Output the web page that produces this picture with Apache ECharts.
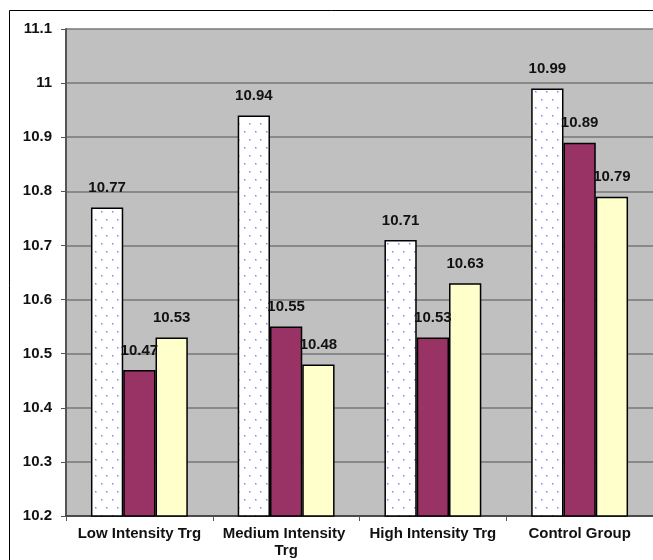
<!DOCTYPE html>
<html>
<head>
<meta charset="utf-8">
<script src="https://cdn.jsdelivr.net/npm/echarts@6/dist/echarts.min.js"></script>
<style>
  html, body { margin: 0; padding: 0; background: #ffffff; }
  #chart { width: 653px; height: 560px; }
</style>
</head>
<body>
<div id="chart"></div>
<script>
// Group names along the category axis
const categories = ['Low Intensity Trg', 'Medium Intensity Trg', 'High Intensity Trg', 'Control Group'];

// Three measurements per group
const seriesA = [10.77, 10.94, 10.71, 10.99]; // dotted white bars
const seriesB = [10.47, 10.55, 10.53, 10.89]; // plum bars
const seriesC = [10.53, 10.48, 10.63, 10.79]; // pale yellow bars

// Value axis range and step
const yMin = 10.2;
const yMax = 11.1;
const yStep = 0.1;

// White tile sprinkled with small blue dots, used as a fill pattern
function dotTile() {
  const c = document.createElement('canvas');
  c.width = 11;
  c.height = 16;
  const g = c.getContext('2d');
  g.fillStyle = '#ffffff';
  g.fillRect(0, 0, c.width, c.height);
  g.fillStyle = 'rgba(150,150,255,0.45)';
  g.fillRect(2, 3, 2, 2);
  g.fillRect(7, 11, 2, 2);
  g.fillStyle = 'rgba(100,100,255,0.8)';
  g.fillRect(2, 3, 1, 1);
  g.fillRect(7, 11, 1, 1);
  return c;
}

const labelStyle = {
  show: true,
  position: 'top',
  distance: 12,
  fontFamily: 'Liberation Sans, Arial, sans-serif',
  fontWeight: 'bold',
  fontSize: 15,
  color: '#111'
};

const chart = echarts.init(document.getElementById('chart'), null, { renderer: 'canvas' });

chart.setOption({
  animation: false,
  backgroundColor: '#ffffff',
  graphic: [{
    type: 'rect',
    shape: { x: 9.5, y: 10.5, width: 700, height: 600 },
    style: { fill: 'none', stroke: '#000', lineWidth: 1 },
    z: 100
  }],
  grid: {
    left: 66,
    top: 29,
    width: 592,
    height: 487,
    show: true,
    backgroundColor: '#c0c0c0',
    borderWidth: 0
  },
  xAxis: {
    type: 'category',
    data: categories,
    axisLine: { show: true, lineStyle: { color: '#333', width: 1.5 } },
    axisTick: { show: true, length: 5, inside: false, lineStyle: { color: '#555' } },
    axisLabel: {
      interval: 0,
      margin: 9,
      width: 142,
      overflow: 'break',
      lineHeight: 17,
      fontFamily: 'Liberation Sans, Arial, sans-serif',
      fontWeight: 'bold',
      fontSize: 15,
      color: '#111'
    }
  },
  yAxis: {
    type: 'value',
    min: yMin,
    max: yMax,
    interval: yStep,
    axisLine: { show: true, lineStyle: { color: '#555', width: 2 } },
    axisTick: { show: true, length: 5, lineStyle: { color: '#555' } },
    axisLabel: {
      margin: 14,
      formatter: v => String(Math.round(v * 10) / 10),
      fontFamily: 'Liberation Sans, Arial, sans-serif',
      fontWeight: 'bold',
      fontSize: 15,
      color: '#111'
    },
    splitLine: { show: true, lineStyle: { color: '#777', width: 1.5 } }
  },
  series: [
    {
      type: 'bar',
      data: seriesA,
      barGap: '0%',
      barCategoryGap: '34%',
      itemStyle: {
        color: { image: dotTile(), repeat: 'repeat' },
        borderColor: '#000',
        borderWidth: 1.5
      },
      label: labelStyle
    },
    {
      type: 'bar',
      data: seriesB,
      itemStyle: { color: '#993366', borderColor: '#000', borderWidth: 1.5 },
      label: labelStyle
    },
    {
      type: 'bar',
      data: seriesC,
      itemStyle: { color: '#ffffcc', borderColor: '#000', borderWidth: 1.5 },
      label: labelStyle
    }
  ]
});
</script>
</body>
</html>
